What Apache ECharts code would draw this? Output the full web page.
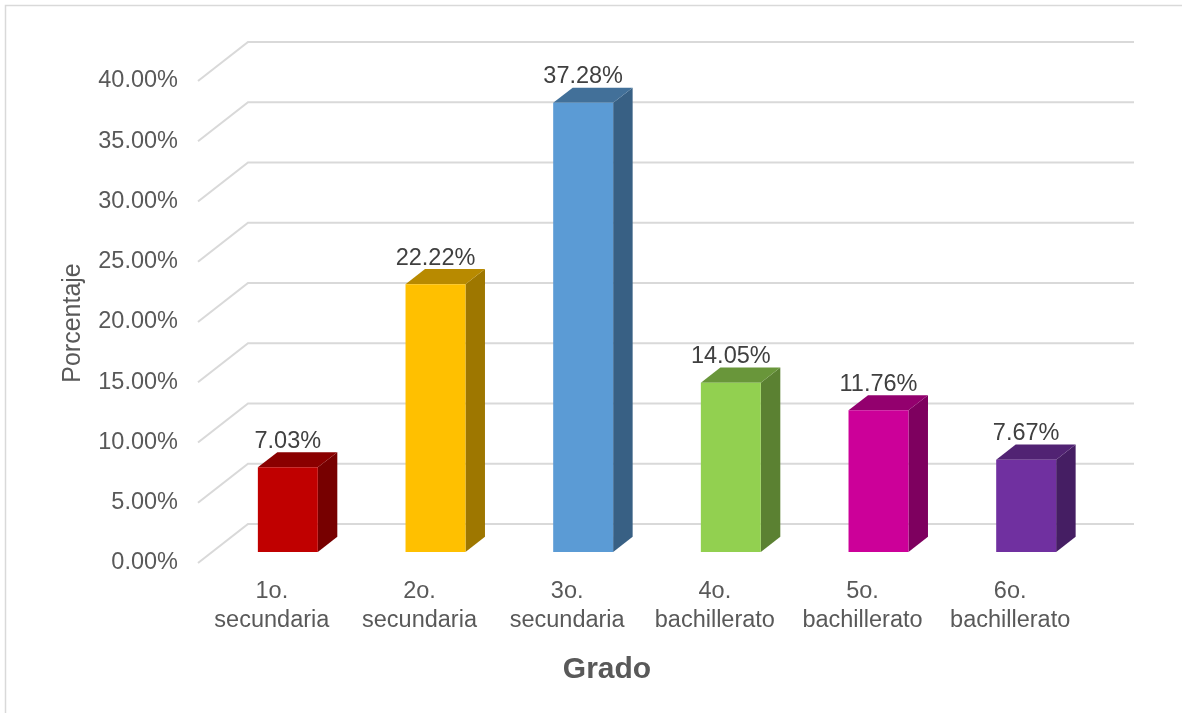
<!DOCTYPE html>
<html>
<head>
<meta charset="utf-8">
<script src="https://cdn.jsdelivr.net/npm/echarts@6/dist/echarts.min.js"></script>
<style>
html,body{margin:0;padding:0;background:#fff;}
#chart{width:1182px;height:713px;}
</style>
</head>
<body>
<div id="chart"></div>
<script>
const categories = ['1o.\nsecundaria', '2o.\nsecundaria', '3o.\nsecundaria', '4o.\nbachillerato', '5o.\nbachillerato', '6o.\nbachillerato'];
const values = [7.03, 22.22, 37.28, 14.05, 11.76, 7.67];
const yTicks = [0, 5, 10, 15, 20, 25, 30, 35, 40];
const yAxisTitle = 'Porcentaje';
const xAxisTitle = 'Grado';

const frontColors = ['#C00000', '#FFC000', '#5B9BD5', '#92D050', '#CC0099', '#7030A0'];
const FONT = '"Liberation Sans", Arial, sans-serif';
const TEXT = '#595959';
const GRID = '#D9D9D9';
// depth of the 3D floor (pixels) and bar position within it
const DX = 50, DY = -39;
const F0 = 0.28, F1 = 0.67;
const BAR_SHIFT_X = 2;

function shade(hex, k) {
  const n = parseInt(hex.slice(1), 16);
  const r = Math.round(((n >> 16) & 255) * k), g = Math.round(((n >> 8) & 255) * k), b = Math.round((n & 255) * k);
  return 'rgb(' + r + ',' + g + ',' + b + ')';
}

const chart = echarts.init(document.getElementById('chart'), null, {renderer: 'canvas'});
chart.setOption({
  animation: false,
  backgroundColor: '#fff',
  grid: {left: 198, right: 98, top: 81, bottom: 150, containLabel: false},
  xAxis: {
    type: 'category',
    data: categories,
    axisLine: {show: false},
    axisTick: {show: false},
    splitLine: {show: false},
    axisLabel: {color: TEXT, fontSize: 23.5, fontFamily: FONT, lineHeight: 29, margin: 14, interval: 0}
  },
  yAxis: {
    type: 'value',
    min: 0, max: 40, interval: 5,
    axisLine: {show: false},
    axisTick: {show: false},
    splitLine: {show: false},
    axisLabel: {color: TEXT, fontSize: 23.5, fontFamily: FONT, margin: 20,
      formatter: v => v.toFixed(2) + '%'}
  },
  graphic: [
    {type: 'rect', shape: {x: 5.5, y: 5.5, width: 1300, height: 900}, style: {fill: 'none', stroke: GRID, lineWidth: 1.5}, silent: true, z: -10},
    {type: 'text', x: 73, y: 323, rotation: Math.PI / 2,
      style: {text: yAxisTitle, fill: TEXT, font: '25px ' + FONT, textAlign: 'center', textVerticalAlign: 'middle'}},
    {type: 'text', x: 607, y: 670,
      style: {text: xAxisTitle, fill: TEXT, font: 'bold 30px ' + FONT, textAlign: 'center', textVerticalAlign: 'middle'}}
  ],
  series: [
    {
      type: 'custom',
      clip: false,
      z: 1,
      data: yTicks.map(v => [0, v]),
      renderItem: function (params, api) {
        const v = api.value(1);
        const p0 = api.coord([0, v]);
        const pR = api.coord([categories.length - 1, v]);
        const band = api.size([1, 0])[0];
        const x0 = p0[0] - band / 2, x1 = pR[0] + band / 2, y = p0[1];
        return {
          type: 'polyline',
          shape: {points: [[x0, y], [x0 + DX, y + DY], [x1 + DX, y + DY]]},
          style: {stroke: GRID, lineWidth: 2, fill: null}
        };
      }
    },
    {
      type: 'custom',
      clip: false,
      z: 2,
      data: values.map((v, i) => [i, v]),
      renderItem: function (params, api) {
        const idx = api.value(0), v = api.value(1);
        const base = api.coord([idx, 0]);
        const top = api.coord([idx, v]);
        const band = api.size([1, 0])[0];
        const w = band * 0.406;
        const fx = DX * F0 + BAR_SHIFT_X, fy = DY * F0;
        const ddx = DX * (F1 - F0), ddy = DY * (F1 - F0);
        const xL = base[0] - w / 2 + fx, xR = xL + w;
        const yB = base[1] + fy, yT = top[1] + fy;
        const c = frontColors[idx];
        return {
          type: 'group',
          children: [
            {type: 'polygon', shape: {points: [[xR, yT], [xR + ddx, yT + ddy], [xR + ddx, yB + ddy], [xR, yB]]},
              style: {fill: shade(c, 0.62)}},
            {type: 'polygon', shape: {points: [[xL, yT], [xL + ddx, yT + ddy], [xR + ddx, yT + ddy], [xR, yT]]},
              style: {fill: shade(c, 0.72)}},
            {type: 'rect', shape: {x: xL, y: yT, width: w, height: yB - yT},
              style: {fill: c}},
            {type: 'text', x: xL + w / 2, y: yT + ddy + 1,
              style: {text: v.toFixed(2) + '%', fill: '#404040', font: '23.5px ' + FONT, textAlign: 'center', textVerticalAlign: 'bottom'}}
          ]
        };
      }
    }
  ]
});
</script>
</body>
</html>
